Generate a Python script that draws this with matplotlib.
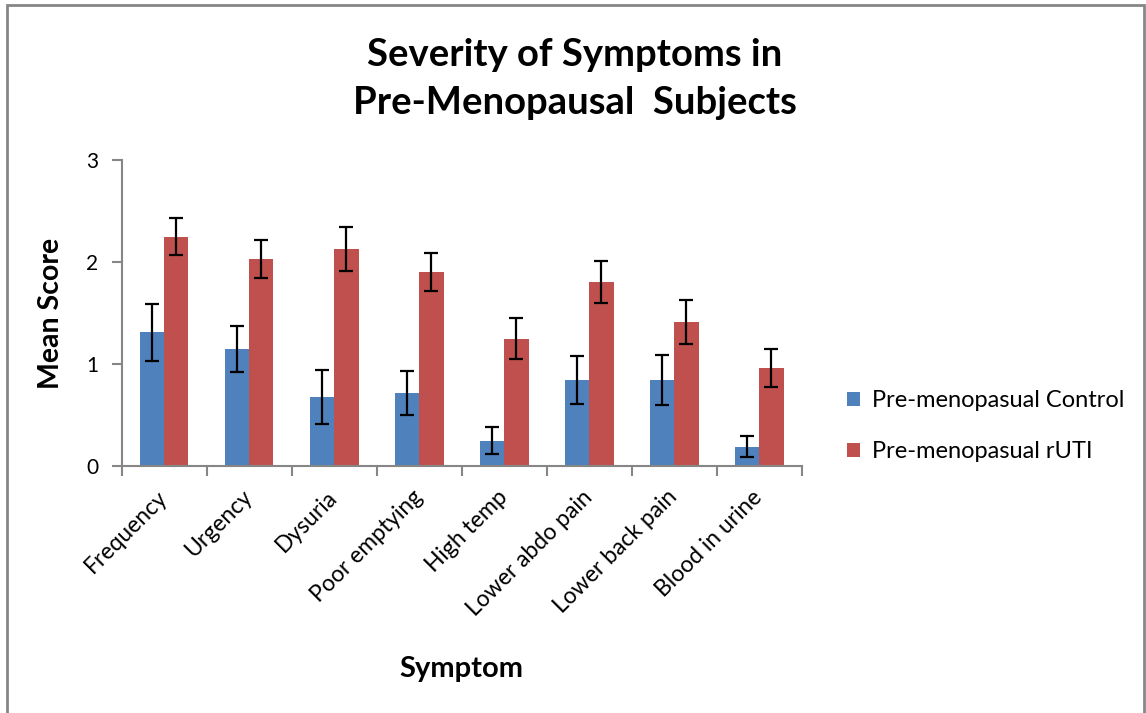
import matplotlib

matplotlib.use("Agg")
import matplotlib.pyplot as plt  # noqa: E402
import numpy as np  # noqa: E402
from matplotlib.patches import Rectangle  # noqa: E402

plt.rcParams["font.family"] = ["Lato", "DejaVu Sans"]

symptoms = ["Frequency", "Urgency", "Dysuria", "Poor emptying", "High temp",
            "Lower abdo pain", "Lower back pain", "Blood in urine"]
control_mean = [1.31, 1.15, 0.68, 0.72, 0.25, 0.84, 0.84, 0.19]
control_err = [0.28, 0.225, 0.265, 0.215, 0.13, 0.235, 0.245, 0.10]
rUTI_mean = [2.25, 2.03, 2.13, 1.90, 1.25, 1.80, 1.41, 0.96]
rUTI_err = [0.18, 0.19, 0.215, 0.185, 0.205, 0.205, 0.215, 0.187]

BLUE = "#4F81BD"
RED = "#C0504D"
GREY = "#868686"

fig = plt.figure(figsize=(11.46, 7.13), dpi=100)
ax = fig.add_axes([0.1062, 0.3464, 0.5934, 0.4292])

# chart frame
fig.patches.append(Rectangle((7 / 1146, -0.05), 1137 / 1146, 1 - 5 / 713 + 0.05,
                             transform=fig.transFigure, fill=False,
                             ec=GREY, lw=2))

x = np.arange(len(symptoms))
w = 1 / 3.5  # gap width 150%
err_kw = dict(ecolor="black", elinewidth=1.6, capsize=5, capthick=1.6)
ax.bar(x - w / 2, control_mean, w, color=BLUE, yerr=control_err,
       error_kw=err_kw, label="Pre-menopasual Control", zorder=2)
ax.bar(x + w / 2, rUTI_mean, w, color=RED, yerr=rUTI_err,
       error_kw=err_kw, label="Pre-menopasual rUTI", zorder=2)

ax.set_xlim(-0.5, len(symptoms) - 0.5)
ax.set_ylim(0, 3)
ax.set_yticks([0, 1, 2, 3])
ax.set_yticklabels(["0", "1", "2", "3"], fontsize=15)
ax.set_xticks(np.arange(len(symptoms) + 1) - 0.5)
ax.set_xticklabels([])
ax.set_xticks(x, minor=True)
ax.set_xticklabels(symptoms, minor=True, rotation=45, ha="right",
                   rotation_mode="anchor", va="center", fontsize=16.5)
ax.tick_params(axis="x", which="minor", length=0, pad=20)
ax.tick_params(axis="x", which="major", length=7, width=1.5, color=GREY)
ax.tick_params(axis="y", length=7, width=1.5, color=GREY, pad=10)

for side in ("top", "right"):
    ax.spines[side].set_visible(False)
for side in ("left", "bottom"):
    ax.spines[side].set_color(GREY)
    ax.spines[side].set_linewidth(1.5)

ax.set_ylabel("Mean Score", fontsize=20.5, fontweight="bold", labelpad=16)
ax.set_xlabel("Symptom", fontsize=21, fontweight="bold")
ax.xaxis.set_label_coords(0.5, -0.62)

fig.text(0.5017, 0.923, "Severity of Symptoms in", ha="center", va="center",
         fontsize=27.5, fontweight="bold")
fig.text(0.5017, 0.855, "Pre-Menopausal  Subjects", ha="center", va="center",
         fontsize=27.5, fontweight="bold")

ax.legend(loc="center left", bbox_to_anchor=(1.035, 0.13), frameon=False,
          fontsize=17, handlelength=0.55, handleheight=0.55, handletextpad=0.5,
          labelspacing=1.25)

fig.savefig("out.png", dpi=100)
